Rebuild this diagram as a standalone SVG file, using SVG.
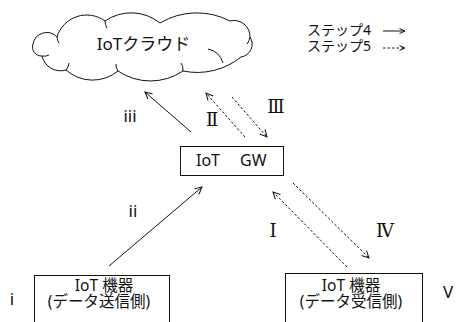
<svg xmlns="http://www.w3.org/2000/svg" width="464" height="322" viewBox="0 0 464 322">
  <style>
    text { font-family: "Noto Sans", "Noto Sans CJK JP", sans-serif; fill: #111; }
    .roman { font-family: "DejaVu Serif", "Liberation Serif", serif; font-size: 18px; text-anchor: middle; }
    .lbl { font-size: 17px; text-anchor: middle; }
    .node { fill: #fff; stroke: #111; stroke-width: 1; }
    .line { fill: none; stroke: #111; stroke-width: 1; }
    .solid { marker-end: url(#head); }
    .dash { stroke-dasharray: 2.5 2; marker-end: url(#head); }
  </style>
  <defs>
    <marker id="head" markerUnits="userSpaceOnUse" markerWidth="10" markerHeight="10" refX="8" refY="4" orient="auto">
      <path d="M1,0.5 L8,4 L1,7.5" fill="none" stroke="#111" stroke-width="1"/>
    </marker>
    <marker id="headSmall" markerUnits="userSpaceOnUse" markerWidth="8" markerHeight="8" refX="6" refY="3" orient="auto">
      <path d="M0.5,0.5 L6,3 L0.5,5.5" fill="none" stroke="#111" stroke-width="1"/>
    </marker>
  </defs>

  <rect width="464" height="322" fill="#fff"/>

  <!-- cloud -->
  <g id="cloud">
    <path class="node" d="M33,44 A14,14 0 0 1 57,37 A31,31 0 0 1 105,21 A46,46 0 0 1 160,23 A72,72 0 0 1 230,21 A16,16 0 0 1 250,37 A13,13 0 0 1 241,57 A70,70 0 0 1 183,71 A58,58 0 0 1 118,71 A40,40 0 0 1 66,70 A19,19 0 0 1 42,56 A9,9 0 0 1 33,44 Z"/>
    <!-- inner curls at the notches -->
    <path class="line" d="M42,56 A10,10 0 0 0 49,55"/>
    <path class="line" d="M66,70 A12,12 0 0 0 69,63"/>
    <path class="line" d="M118,71 A10,10 0 0 1 116,64"/>
    <path class="line" d="M183,71 A12,12 0 0 0 181,63"/>
    <path class="line" d="M223,63 A20,20 0 0 0 208,49"/>
    <path class="line" d="M250,37 A14,14 0 0 1 247,44"/>
    <path class="line" d="M105,21 A16,16 0 0 0 107,28"/>
    <path class="line" d="M57,37 A12,12 0 0 0 59,43"/>
    <text x="143.5" y="50" font-size="17" text-anchor="middle">IoTクラウド</text>
  </g>

  <!-- gateway -->
  <g id="gw">
    <rect class="node" x="180.5" y="146.5" width="103" height="29"/>
    <text y="166" font-size="16"><tspan x="196">IoT</tspan><tspan x="240">GW</tspan></text>
  </g>

  <!-- data sending device -->
  <g id="sender">
    <rect class="node" x="34.5" y="275.5" width="135" height="60"/>
    <text x="104" y="290.5" font-size="15.5" text-anchor="middle">IoT 機器</text>
    <text x="99" y="307" font-size="15.5" text-anchor="middle">(データ送信側)</text>
  </g>

  <!-- data receiving device -->
  <g id="receiver">
    <rect class="node" x="285.5" y="273.5" width="137" height="60"/>
    <text x="351" y="290.5" font-size="15.5" text-anchor="middle">IoT 機器</text>
    <text x="351" y="307" font-size="15.5" text-anchor="middle">(データ受信側)</text>
  </g>

  <!-- legend -->
  <g id="legend">
    <text x="307" y="35" font-size="14">ステップ4</text>
    <text x="307" y="51" font-size="14">ステップ5</text>
    <line class="line" x1="383" y1="31" x2="405" y2="31" marker-end="url(#headSmall)"/>
    <line class="line" x1="383" y1="48" x2="405" y2="48" stroke-dasharray="2.5 2" marker-end="url(#headSmall)"/>
  </g>

  <!-- connectors -->
  <g id="connectors">
    <line class="line solid" x1="109" y1="266" x2="202" y2="187"/>
    <line class="line solid" x1="191" y1="132" x2="145" y2="92"/>
    <line class="line dash" x1="245" y1="137" x2="206" y2="93"/>
    <line class="line dash" x1="232" y1="97" x2="267" y2="137"/>
    <line class="line dash" x1="347" y1="267" x2="273" y2="192"/>
    <line class="line dash" x1="293" y1="183" x2="369" y2="258"/>
  </g>

  <!-- step labels -->
  <g id="labels">
    <text class="lbl" x="12" y="305" font-size="19">i</text>
    <text class="lbl" x="133" y="217">ii</text>
    <text class="lbl" x="130" y="122">iii</text>
    <text class="lbl" x="448" y="298">V</text>
    <text class="roman" x="273" y="237">Ⅰ</text>
    <text class="roman" x="212" y="126">Ⅱ</text>
    <text class="roman" x="276" y="113">Ⅲ</text>
    <text class="roman" x="385" y="237">Ⅳ</text>
  </g>
</svg>
